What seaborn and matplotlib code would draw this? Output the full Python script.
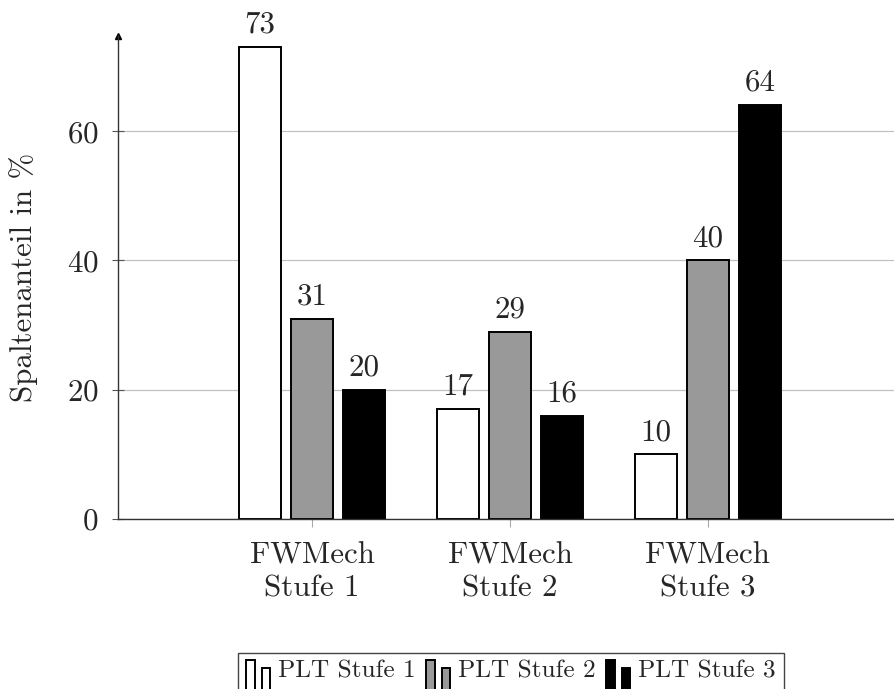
import pandas as pd
import matplotlib
matplotlib.use("Agg")
import matplotlib.pyplot as plt
import matplotlib.patches as mpatches
from matplotlib.legend_handler import HandlerBase
import seaborn as sns

# chart values
groups = ["FWMech\nStufe 1", "FWMech\nStufe 2", "FWMech\nStufe 3"]
series = ["PLT Stufe 1", "PLT Stufe 2", "PLT Stufe 3"]
plt1 = [73, 17, 10]
plt2 = [31, 29, 40]
plt3 = [20, 16, 64]

df = pd.DataFrame({
    "group": groups * 3,
    "series": [series[0]] * 3 + [series[1]] * 3 + [series[2]] * 3,
    "value": plt1 + plt2 + plt3,
})

palette = {series[0]: "white", series[1]: "#999999", series[2]: "black"}

sns.set_theme(style="white")
plt.rcParams["font.family"] = ["cmr10", "DejaVu Serif"]
plt.rcParams["axes.formatter.use_mathtext"] = True
plt.rcParams["mathtext.fontset"] = "cm"

fs = 22.3

fig = plt.figure(figsize=(8.94, 6.89), dpi=100)
ax = fig.add_axes([0.132, 0.2467, 0.868, 0.701])

sns.barplot(data=df, x="group", y="value", hue="series", order=groups,
            hue_order=series, palette=palette, width=0.79, gap=0.2,
            edgecolor="black", linewidth=1.4, ax=ax, legend=False)

for cont in ax.containers:
    ax.bar_label(cont, padding=6, fontsize=fs)

ax.set_xlim(-0.98, 2.94)
ax.set_ylim(0, 74.7)
ax.set_yticks([0, 20, 40, 60])
ax.yaxis.grid(True, color="#c0c0c0", linewidth=0.9)
ax.set_axisbelow(True)
for s in ["top", "right"]:
    ax.spines[s].set_visible(False)
ax.spines["left"].set_color("#333333")
ax.spines["bottom"].set_color("#333333")
ax.spines["left"].set_linewidth(1.0)
ax.spines["bottom"].set_linewidth(1.0)
ax.tick_params(axis="y", direction="inout", length=8, width=0.8, color="#555555",
               labelsize=fs, left=True, pad=10)
ax.tick_params(axis="x", direction="out", length=6, width=0.8, color="#aaaaaa",
               labelsize=fs, bottom=True, pad=10)
for lab in ax.get_xticklabels():
    lab.set_linespacing(1.25)
ax.set_xlabel("")
ax.set_ylabel("Spaltenanteil in %", fontsize=fs)
ax.yaxis.set_label_coords(-0.103, 0.5)

# arrow on the y axis
ax.plot(0, 1, marker="^", markersize=5, color="black", transform=ax.transAxes,
        clip_on=False)


class TwoBars(HandlerBase):
    # pgfplots style ybar legend image: two small bars
    def create_artists(self, legend, orig_handle, xdescent, ydescent,
                       width, height, fontsize, trans):
        fc = orig_handle.get_facecolor()
        y0 = -ydescent - 0.68 * height
        w = width * 0.34
        r1 = mpatches.Rectangle((-xdescent, y0), w, 1.7 * height, facecolor=fc,
                                edgecolor="black", linewidth=1.4, transform=trans)
        r2 = mpatches.Rectangle((-xdescent + width * 0.62, y0), w, 1.24 * height,
                                facecolor=fc, edgecolor="black", linewidth=1.4,
                                transform=trans)
        return [r1, r2]


handles = [mpatches.Patch(facecolor=palette[s], edgecolor="black") for s in series]
leg = fig.legend(handles, series, loc="upper center", bbox_to_anchor=(0.5716, 0.0711),
                 ncol=3, frameon=False, fontsize=18.2,
                 handler_map={mpatches.Patch: TwoBars()}, handlelength=1.0,
                 handletextpad=0.28, columnspacing=0.4, borderpad=0.3)

# legend frame, open at the bottom edge of the picture
fig.canvas.draw()
bb = leg.get_window_extent().transformed(fig.transFigure.inverted())
fig.patches.append(mpatches.Rectangle((bb.x0, -0.05), bb.width, bb.y1 + 0.05,
                                      transform=fig.transFigure, fill=False,
                                      edgecolor="#444444", linewidth=1.0))

fig.savefig("out.png", dpi=100)
